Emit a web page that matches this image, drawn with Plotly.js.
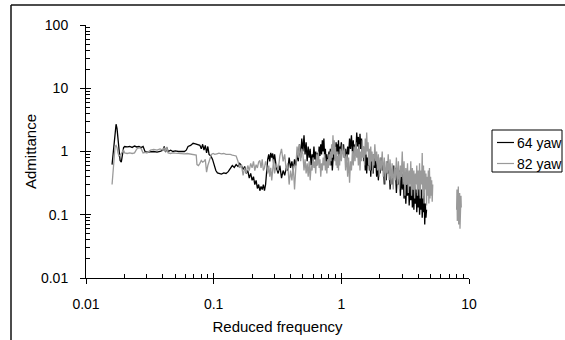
<!DOCTYPE html>
<html>
<head>
<meta charset="utf-8">
<script src="https://cdn.plot.ly/plotly-3.0.1.min.js"></script>
<style>html,body{margin:0;padding:0;background:#fff;}#chart{width:565px;height:340px;}</style>
</head>
<body>
<div id="chart"></div>
<script>
// Series names
const seriesNames = ["64 yaw", "82 yaw"];

// 64 yaw: [reduced frequency, admittance]
const yaw64 = [
[0.0160,0.62],[0.0163,0.9],[0.0166,1.6],[0.0169,2.4],[0.0172,2.7],[0.0175,2.3],[0.0178,1.5],[0.0181,0.95],
[0.0185,0.72],[0.0189,0.68],[0.0193,0.85],[0.0197,1.15],[0.0201,1.2],[0.0210,1.18],[0.0220,1.2],[0.0230,1.16],
[0.0240,1.22],[0.0250,1.18],[0.0260,1.2],[0.0270,1.15],[0.0280,1.2],[0.0290,1.0],[0.0300,0.98],[0.0320,1.0],
[0.0340,1.0],[0.0360,0.98],[0.0380,1.0],[0.0400,1.05],[0.0410,1.2],[0.0420,0.98],[0.0430,1.15],[0.0440,1.0],
[0.0460,1.05],[0.0480,1.0],[0.0500,1.02],[0.0530,1.0],[0.0560,1.0],[0.0590,1.0],[0.0610,1.05],[0.0630,1.2],
[0.0660,1.25],[0.0690,1.35],[0.0720,1.32],[0.0750,1.3],[0.0780,1.25],[0.0800,1.1],[0.0820,1.3],[0.0840,1.05],
[0.0860,1.25],[0.0880,0.95],[0.0900,1.2],[0.0920,0.9],[0.0950,0.85],[0.0980,0.75],[0.1010,0.6],[0.1040,0.5],
[0.1070,0.46],[0.1100,0.45],[0.1150,0.44],[0.1200,0.46],[0.1250,0.45],[0.1300,0.48],[0.1350,0.55],[0.1400,0.6],
[0.1450,0.56],[0.1500,0.62],[0.1550,0.58],[0.1600,0.65],[0.1650,0.6],[0.1700,0.52],[0.1750,0.58],[0.1800,0.45],
[0.1850,0.5],[0.1900,0.38],[0.1950,0.45],[0.2000,0.35],[0.2050,0.4],[0.2100,0.3],[0.2150,0.35],[0.2200,0.26],
[0.2250,0.3],[0.2300,0.24],[0.2350,0.28],[0.2400,0.25],[0.2450,0.3],[0.2500,0.24],[0.2550,0.3],[0.2600,0.5],
[0.2650,0.75],[0.2700,0.9],[0.2750,0.7],[0.2800,0.95],[0.2850,0.8],[0.2900,0.93],[0.2950,0.65],[0.3000,0.9],
[0.3050,0.7],[0.3100,0.55],[0.3200,0.45],[0.3300,0.6],[0.3400,0.38],[0.3500,0.5],[0.3600,0.42],[0.3700,0.55],
[0.3800,0.5],[0.3900,0.8],[0.4000,0.55],[0.4100,0.7],[0.4200,0.5],[0.4300,0.75],[0.4400,0.6],[0.4500,0.9],
[0.4600,0.7],[0.4700,1.3],[0.4800,0.8],[0.4900,1.6],[0.50,1.0],[0.51,1.8],[0.52,0.9],[0.53,1.4],
[0.54,0.7],[0.55,1.2],[0.56,0.8],[0.57,1.1],[0.58,0.6],[0.59,0.9],[0.60,0.7],[0.61,1.2],
[0.62,0.75],[0.63,1.0],[0.64,0.6],[0.65,0.95],[0.66,0.7],[0.67,1.2],[0.68,0.85],[0.69,1.3],
[0.70,0.9],[0.71,1.5],[0.72,1.0],[0.73,1.6],[0.74,0.8],[0.75,1.1],[0.76,0.65],[0.77,0.9],
[0.78,0.55],[0.79,0.8],[0.80,1.0],[0.81,0.7],[0.82,1.1],[0.83,0.6],[0.84,0.9],[0.85,0.5],
[0.86,0.8],[0.87,1.0],[0.88,0.75],[0.89,1.2],[0.90,0.8],[0.91,1.4],[0.92,0.9],[0.93,1.3],
[0.94,1.0],[0.95,1.5],[0.96,0.85],[0.97,1.2],[0.98,0.9],[1.00,1.4],[1.02,0.95],[1.04,1.3],
[1.06,0.8],[1.08,1.1],[1.10,0.7],[1.12,1.2],[1.14,0.9],[1.16,1.6],[1.18,1.1],[1.20,1.8],
[1.22,1.0],[1.24,1.5],[1.26,0.8],[1.28,1.3],[1.30,1.0],[1.32,2.0],[1.34,1.2],[1.36,1.7],
[1.38,0.9],[1.40,1.9],[1.42,1.1],[1.44,1.6],[1.46,0.9],[1.48,1.2],[1.50,0.7],[1.52,1.0],
[1.54,0.5],[1.56,0.9],[1.58,0.45],[1.60,0.8],[1.62,0.6],[1.64,0.95],[1.66,0.5],[1.68,0.85],
[1.70,0.4],[1.72,0.7],[1.74,0.5],[1.76,0.8],[1.78,0.45],[1.80,0.9],[1.83,0.55],[1.86,0.75],
[1.89,0.4],[1.92,0.65],[1.95,0.35],[1.98,0.6],[2.01,0.45],[2.05,0.8],[2.09,0.5],[2.13,0.65],
[2.17,0.3],[2.21,0.55],[2.25,0.35],[2.29,0.7],[2.33,0.45],[2.37,0.6],[2.41,0.25],[2.45,0.5],
[2.50,0.3],[2.55,0.6],[2.60,0.4],[2.65,0.55],[2.70,0.22],[2.75,0.45],[2.80,0.3],[2.85,0.5],
[2.90,0.2],[2.95,0.4],[3.00,0.25],[3.05,0.45],[3.10,0.18],[3.15,0.35],[3.20,0.15],[3.25,0.3],
[3.30,0.2],[3.35,0.4],[3.40,0.14],[3.45,0.28],[3.50,0.17],[3.55,0.35],[3.60,0.13],[3.65,0.25],
[3.70,0.12],[3.75,0.3],[3.80,0.15],[3.85,0.25],[3.90,0.11],[3.95,0.22],[4.00,0.13],[4.05,0.3],
[4.10,0.1],[4.15,0.2],[4.20,0.12],[4.25,0.25],[4.30,0.09],[4.35,0.18],[4.40,0.11],[4.45,0.22],
[4.50,0.07],[4.55,0.15],[4.60,0.09],[4.65,0.12]
];

// 82 yaw: [reduced frequency, admittance]  (null = gap in the record)
const yaw82 = [
[0.0160,0.3],[0.0163,0.55],[0.0166,0.95],[0.0169,1.2],[0.0172,1.25],[0.0175,1.15],[0.0178,0.95],[0.0181,0.85],
[0.0185,0.88],[0.0189,0.92],[0.0193,1.0],[0.0197,1.05],[0.0201,0.95],[0.0210,0.93],[0.0220,0.95],[0.0230,0.93],
[0.0240,0.95],[0.0250,1.1],[0.0260,1.15],[0.0270,1.12],[0.0280,0.95],[0.0290,0.97],[0.0300,0.95],[0.0320,1.05],
[0.0340,1.08],[0.0360,1.05],[0.0380,1.1],[0.0400,1.05],[0.0410,1.15],[0.0420,1.0],[0.0430,1.18],[0.0440,0.95],
[0.0460,0.93],[0.0480,0.95],[0.0500,0.94],[0.0530,0.93],[0.0560,0.94],[0.0590,0.92],[0.0620,0.93],[0.0650,0.92],
[0.0680,0.91],[0.0710,0.9],[0.0730,0.88],[0.0740,0.62],[0.0760,0.6],[0.0780,0.65],[0.0800,0.72],[0.0820,0.68],
[0.0840,0.7],[0.0860,0.75],[0.0880,0.47],[0.0900,0.6],[0.0930,0.75],[0.0960,0.9],[0.0990,0.93],[0.1020,0.9],
[0.1060,0.92],[0.1100,0.94],[0.1150,0.92],[0.1200,0.93],[0.1250,0.9],[0.1300,0.91],[0.1350,0.9],[0.1400,0.88],
[0.1450,0.86],[0.1500,0.85],[0.1550,0.7],[0.1600,0.55],[0.1650,0.62],[0.1700,0.42],[0.1750,0.55],[0.1800,0.45],
[0.1850,0.6],[0.1900,0.5],[0.1950,0.65],[0.2000,0.55],[0.2050,0.7],[0.2100,0.5],[0.2150,0.62],[0.2200,0.55],
[0.2250,0.68],[0.2300,0.72],[0.2350,0.55],[0.2400,0.75],[0.2450,0.5],[0.2500,0.55],[0.2550,0.7],[0.2600,0.6],
[0.2650,0.45],[0.2700,0.6],[0.2750,0.4],[0.2800,0.55],[0.2850,0.35],[0.2900,0.5],[0.2950,0.75],[0.3000,0.45],
[0.3100,0.65],[0.3200,0.5],[0.3300,0.85],[0.3400,1.1],[0.3500,0.7],[0.3600,0.9],[0.3700,0.5],[0.3800,0.65],
[0.3900,0.3],[0.4000,0.5],[0.4100,0.35],[0.4200,0.6],[0.4300,0.25],[0.4400,0.55],[0.4500,1.2],[0.4600,0.8],
[0.4700,1.3],[0.4800,0.7],[0.4900,1.1],[0.50,0.9],[0.51,0.5],[0.52,0.75],[0.53,0.45],[0.54,0.65],
[0.55,0.4],[0.56,0.7],[0.57,0.35],[0.58,0.6],[0.59,0.5],[0.60,0.8],[0.61,0.55],[0.62,0.7],
[0.63,0.45],[0.64,0.9],[0.65,0.6],[0.66,1.0],[0.67,0.55],[0.68,0.75],[0.69,0.4],[0.70,0.65],
[0.71,0.5],[0.72,0.8],[0.73,0.6],[0.74,0.9],[0.75,0.5],[0.76,0.7],[0.77,0.45],[0.78,0.75],
[0.79,0.55],[0.80,0.9],[0.81,0.6],[0.82,1.0],[0.83,0.7],[0.84,1.3],[0.85,0.8],[0.86,1.8],
[0.87,0.9],[0.88,1.5],[0.89,0.7],[0.90,1.2],[0.91,0.6],[0.92,1.0],[0.93,0.55],[0.94,0.85],
[0.95,0.5],[0.96,0.9],[0.97,0.6],[0.98,1.1],[1.00,0.7],[1.02,1.3],[1.04,0.8],[1.06,1.1],
[1.08,0.5],[1.10,0.9],[1.12,0.4],[1.14,0.8],[1.16,0.32],[1.18,0.7],[1.20,0.5],[1.22,1.0],
[1.24,0.6],[1.26,1.2],[1.28,0.7],[1.30,1.4],[1.32,0.8],[1.34,1.1],[1.36,0.6],[1.38,1.3],
[1.40,0.5],[1.42,1.0],[1.44,0.7],[1.46,1.5],[1.48,0.8],[1.50,1.2],[1.52,0.6],[1.54,1.6],
[1.56,0.9],[1.58,2.0],[1.60,1.0],[1.62,1.4],[1.64,0.6],[1.66,1.1],[1.68,0.5],[1.70,1.2],
[1.72,0.7],[1.74,1.0],[1.76,0.45],[1.78,0.9],[1.80,0.6],[1.83,1.3],[1.86,0.7],[1.89,1.0],
[1.92,0.5],[1.95,0.9],[1.98,0.4],[2.01,0.8],[2.05,0.5],[2.09,1.0],[2.13,0.4],[2.17,0.8],
[2.21,0.3],[2.25,0.7],[2.29,0.45],[2.33,0.9],[2.37,0.35],[2.41,0.75],[2.45,0.3],[2.50,0.65],
[2.55,0.25],[2.60,0.6],[2.65,0.35],[2.70,0.8],[2.75,0.3],[2.80,0.7],[2.85,0.25],[2.90,0.6],
[2.95,0.4],[3.00,1.0],[3.05,0.3],[3.10,0.7],[3.15,0.2],[3.20,0.55],[3.25,0.3],[3.30,0.65],
[3.35,0.22],[3.40,0.5],[3.45,0.3],[3.50,0.7],[3.55,0.2],[3.60,0.55],[3.65,0.25],[3.70,0.5],
[3.75,0.18],[3.80,0.45],[3.85,0.3],[3.90,0.6],[3.95,0.2],[4.00,0.5],[4.05,0.25],[4.10,0.65],
[4.15,0.18],[4.20,0.5],[4.25,0.3],[4.30,0.95],[4.35,0.2],[4.40,0.6],[4.45,0.15],[4.50,0.5],
[4.55,0.25],[4.60,0.45],[4.65,0.14],[4.70,0.4],[4.75,0.2],[4.80,0.5],[4.85,0.15],[4.90,0.55],
[4.95,0.18],[5.00,0.4],[5.05,0.2],[5.10,0.35],[5.15,0.16],[5.20,0.3],
[6.50,null],
[8.00,0.12],[8.05,0.25],[8.10,0.08],[8.15,0.2],[8.20,0.1],[8.25,0.28],[8.30,0.07],[8.35,0.18],
[8.40,0.12],[8.45,0.22],[8.50,0.06],[8.55,0.16],[8.60,0.1],[8.65,0.2],[8.70,0.13]
];

// Axis ticks
const xTickVals = [0.01, 0.1, 1, 10];
const xTickText = ["0.01", "0.1", "1", "10"];
const yTickVals = [0.01, 0.1, 1, 10, 100];
const yTickText = ["0.01", "0.1", "1", "10", "100"];

function minorLog(lo, hi) {
  const out = [];
  for (let e = lo; e < hi; e++) for (let m = 2; m <= 9; m++) out.push(m * Math.pow(10, e));
  return out;
}

const FONT = "Liberation Sans, Arial, Helvetica, sans-serif";
const colors = ["#000000", "#9a9a9a"];

const traces = [yaw64, yaw82].map((s, i) => ({
  x: s.map(p => p[0]),
  y: s.map(p => p[1]),
  type: "scatter",
  mode: "lines",
  name: seriesNames[i],
  line: { color: colors[i], width: 1.3 },
  showlegend: false,
  hoverinfo: "skip"
}));
// dummy trace for overlay axes (inner half of the major ticks)
traces.push({ x: [], y: [], xaxis: "x2", yaxis: "y2", showlegend: false, type: "scatter", mode: "lines" });

const axBase = {
  type: "log",
  showgrid: false,
  zeroline: false,
  showline: true,
  linecolor: "#000",
  linewidth: 1,
  ticks: "outside",
  ticklen: 5,
  tickwidth: 1,
  tickcolor: "#000",
  tickfont: { family: FONT, size: 14, color: "#000" }
};

// paper coordinates helpers (plot area: x 86..469, y 25..278)
const px = v => (v - 86) / 383;
const py = v => (278 - v) / 253;

const layout = {
  width: 565, height: 340,
  margin: { l: 86, r: 96, t: 25, b: 62, pad: 0 },
  paper_bgcolor: "#fff", plot_bgcolor: "#fff",
  font: { family: FONT, color: "#000" },
  showlegend: false,
  xaxis: Object.assign({}, axBase, {
    range: [-2, 1],
    tickvals: xTickVals, ticktext: xTickText,
    minor: { tickvals: minorLog(-2, 1), ticks: "inside", ticklen: 4, tickcolor: "#000", tickwidth: 1 },
    title: { text: "Reduced frequency", font: { family: FONT, size: 15, color: "#000" }, standoff: 10 },
    ticklabelstandoff: 8
  }),
  yaxis: Object.assign({}, axBase, {
    range: [-2, 2],
    tickvals: yTickVals, ticktext: yTickText,
    minor: { tickvals: minorLog(-2, 2), ticks: "inside", ticklen: 4, tickcolor: "#000", tickwidth: 1 },
    title: { text: "Admittance", font: { family: FONT, size: 15, color: "#000" }, standoff: 0 },
    ticklabelstandoff: 9
  }),
  xaxis2: { type: "log", range: [-2, 1], overlaying: "x", anchor: "y2", side: "bottom", showgrid: false, zeroline: false,
    showline: false, ticks: "inside", ticklen: 5, tickcolor: "#000", tickvals: xTickVals, showticklabels: false },
  yaxis2: { type: "log", range: [-2, 2], overlaying: "y", anchor: "x2", side: "left", showgrid: false, zeroline: false,
    showline: false, ticks: "inside", ticklen: 5, tickcolor: "#000", tickvals: yTickVals, showticklabels: false },
  shapes: [
    // outer frame (top and left edges visible)
    { type: "line", xref: "paper", yref: "paper", x0: px(11), x1: px(566), y0: py(5), y1: py(5), line: { color: "#111", width: 1.5 } },
    { type: "line", xref: "paper", yref: "paper", x0: px(11), x1: px(11), y0: py(5), y1: py(341), line: { color: "#111", width: 1.5 } },
    // legend box
    { type: "rect", xref: "paper", yref: "paper", x0: px(492), x1: px(562), y0: py(172), y1: py(130), line: { color: "#000", width: 1 }, fillcolor: "#fff" },
    { type: "line", xref: "paper", yref: "paper", x0: px(497), x1: px(514), y0: py(142.5), y1: py(142.5), line: { color: colors[0], width: 1.2 } },
    { type: "line", xref: "paper", yref: "paper", x0: px(497), x1: px(514), y0: py(163.5), y1: py(163.5), line: { color: colors[1], width: 1.2 } }
  ],
  annotations: [
    { xref: "paper", yref: "paper", x: px(515), y: py(142.5), xanchor: "left", yanchor: "middle", showarrow: false,
      text: seriesNames[0], font: { family: FONT, size: 14, color: "#000" } },
    { xref: "paper", yref: "paper", x: px(515), y: py(163.5), xanchor: "left", yanchor: "middle", showarrow: false,
      text: seriesNames[1], font: { family: FONT, size: 14, color: "#000" } }
  ]
};

Plotly.newPlot("chart", traces, layout, { staticPlot: true, displayModeBar: false });
</script>
</body>
</html>
